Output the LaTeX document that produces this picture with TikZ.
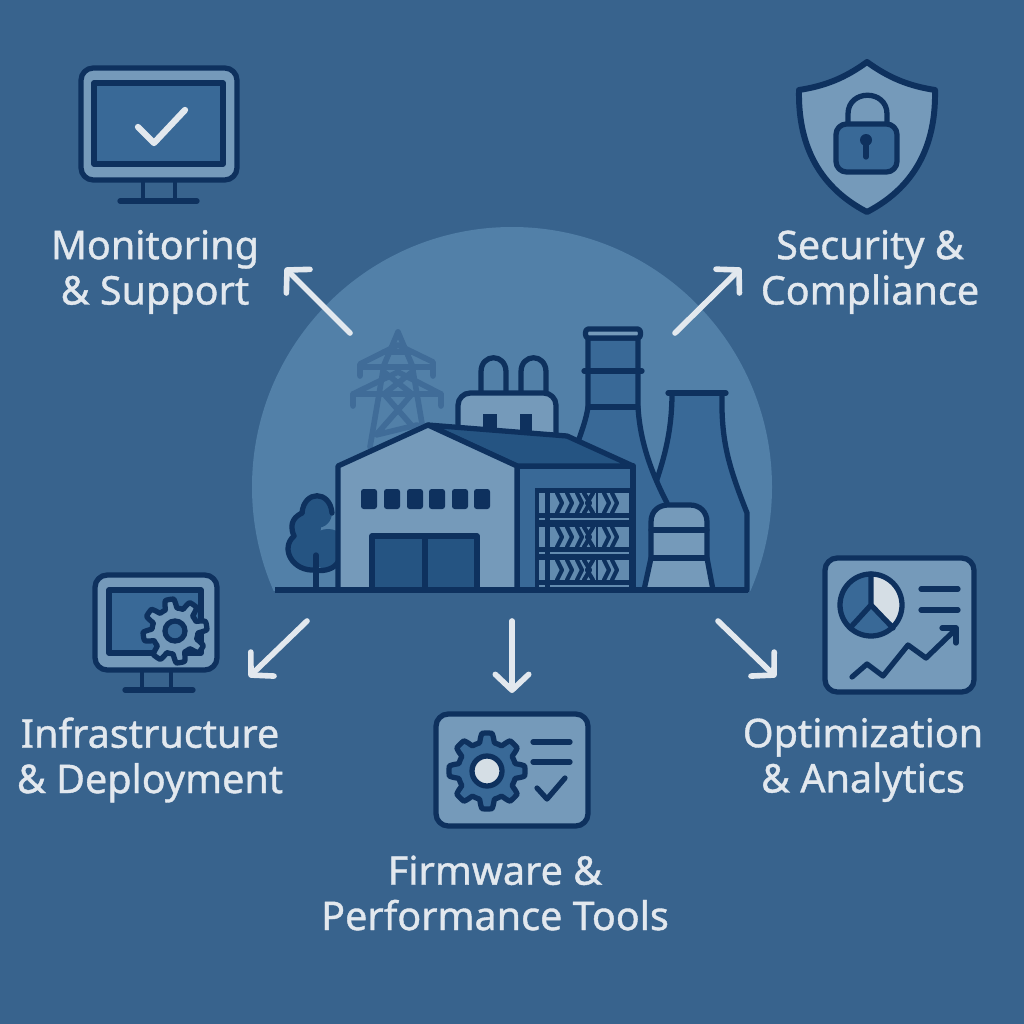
\documentclass[tikz,border=0pt]{standalone}
\usepackage{fontspec}
\setmainfont[FakeBold=1]{Noto Sans}
\usetikzlibrary{arrows.meta}

\definecolor{bgblue}{RGB}{56,99,141}
\definecolor{domeblue}{RGB}{82,128,168}
\definecolor{paleblue}{RGB}{117,154,186}
\definecolor{midblue}{RGB}{57,105,151}
\definecolor{deepblue}{RGB}{37,84,130}
\definecolor{inkblue}{RGB}{14,49,94}
\definecolor{towerblue}{RGB}{64,108,152}
\definecolor{arrowwhite}{RGB}{226,232,238}
\definecolor{pieshade}{RGB}{213,222,229}

\newcommand{\gearpath}[5]{plot[samples=193,domain=0:360,variable=\t,smooth] ({#1+min(#3,max(#4,(#3+#4)/2+(#3-#4)*1.1*cos(8*(\t+#5))))*cos(\t)},{#2+min(#3,max(#4,(#3+#4)/2+(#3-#4)*1.1*cos(8*(\t+#5))))*sin(\t)}) -- cycle}

\begin{document}
\begin{tikzpicture}[x=0.02cm,y=-0.02cm]
	\tikzstyle{ink}=[draw=inkblue,line width=3pt,line join=round,line cap=round]
	\tikzstyle{thinink}=[draw=inkblue,line width=2.4pt,line join=round,line cap=round]
	\tikzstyle{pylon}=[draw=towerblue,line width=3.2pt,line join=round,line cap=round]
	\tikzstyle{flow}=[draw=arrowwhite,line width=3.2pt,line cap=round,-{Straight Barb[length=9pt,width=19pt,line cap=round,line join=round]}]
	\tikzstyle{caption}=[text=arrowwhite,font=\fontsize{22.5}{25.8}\selectfont,align=center,inner sep=0pt]

	\fill[bgblue] (0,0) rectangle (1024,1024);
	\useasboundingbox (0,0) rectangle (1024,1024);

	\begin{scope}
		\clip (0,0) rectangle (1024,590);
		\fill[domeblue] (512,487) circle [radius=260];
	\end{scope}

	\draw[pylon] (398,332) -- (384,365) -- (370,447);
	\draw[pylon] (398,332) -- (412,365) -- (426,447);
	\draw[pylon] (384,352) -- (412,352);
	\draw[pylon] (360,376) -- (360,364) -- (398,345) -- (433,362) -- (433,376);
	\draw[pylon] (360,367) -- (433,367);
	\draw[pylon] (353,406) -- (353,394) -- (398,372) -- (441,394) -- (441,406);
	\draw[pylon] (353,394) -- (441,394);
	\draw[pylon] (384,372) -- (412,394) -- (376,435) -- (417,425);
	\draw[pylon] (412,372) -- (384,394) -- (420,435);

	\draw[ink,fill=midblue] (672,393) -- (722,393) .. controls (721,440) and (728,465) .. (747,513) -- (747,590) -- (650,590) -- (650,500) .. controls (660,470) and (672,440) .. (672,393) -- cycle;
	\draw[ink] (668,393) -- (726,393);

	\draw[ink,fill=midblue] (588,338) -- (588,407) .. controls (586,420) and (582,430) .. (578,442) -- (570,590) -- (660,590) -- (667,503) .. controls (650,470) and (640,440) .. (638,407) -- (638,338) -- cycle;
	\draw[ink,fill=paleblue] (588,329) -- (638,329) to[out=0,in=0] (638,338) -- (588,338) to[out=180,in=180] (588,329);
	\draw[ink] (584,371) -- (642,371);
	\draw[ink] (588,407) -- (638,407);

	\draw[ink,fill=paleblue] (644,590) -- (651,558) -- (651,522) .. controls (651,510) and (660,505) .. (668,505) -- (690,505) .. controls (700,505) and (707,512) .. (707,522) -- (707,558) -- (713,590) -- cycle;
	\draw[ink] (651,530) -- (707,530);
	\draw[ink] (651,558) -- (707,558);

	\draw[ink,fill=domeblue] (481,393) -- (481,372) .. controls (481,353) and (506,353) .. (506,372) -- (506,393);
	\draw[ink,fill=domeblue] (521,393) -- (521,372) .. controls (521,353) and (546,353) .. (546,372) -- (546,393);
	\draw[ink,fill=paleblue,rounded corners=7pt] (458,440) -- (458,393) -- (556,393) -- (556,440);
	\fill[inkblue] (483,414) rectangle (497,432);
	\fill[inkblue] (520,414) rectangle (532,434);

	\fill[deepblue] (317,513) circle [radius=15];
	\fill[deepblue] (306,527) circle [radius=15];
	\fill[deepblue] (306,549) circle [radius=20];
	\fill[deepblue] (328,549) circle [radius=20];
	\draw[ink] (302,513) .. controls (304,490) and (330,490) .. (332,513);
	\draw[ink] (302,513) .. controls (296,516) and (288,522) .. (294,536);
	\draw[ink] (294,536) .. controls (280,548) and (292,572) .. (316,570) .. controls (325,572) and (335,568) .. (338,562);
	\draw[ink] (316,555) -- (316,590);

	\draw[ink,fill=midblue] (517,466) -- (633,466) -- (633,590) -- (517,590) -- cycle;
	\draw[ink,fill=deepblue] (428,425) -- (567,436) -- (633,466) -- (517,466) -- cycle;
	\draw[ink,fill=paleblue] (338,590) -- (338,466) -- (428,425) -- (517,466) -- (517,590) -- cycle;

	\foreach \winx in {361,384,407,429,452,474}
		\fill[inkblue,rounded corners=1.5pt] (\winx,489) rectangle ({\winx+16},509);

	\draw[ink,fill=deepblue] (372,536) rectangle (477,590);
	\draw[ink] (425,536) -- (425,590);

	\fill[inkblue] (535,488) rectangle (632,590);
	\foreach \rowy in {493,527,560} {
		\fill[paleblue!70!midblue] (550,\rowy) rectangle (629,{\rowy+20});
		\fill[paleblue!70!midblue] (539,\rowy) rectangle (545,{\rowy+20});
		\fill[paleblue!70!midblue] (550,{\rowy+25}) rectangle (629,{\rowy+27});
		\fill[paleblue!70!midblue] (539,{\rowy+25}) rectangle (545,{\rowy+27});
		\foreach \barx in {557,567,577,604,612}
			\draw[thinink] (\barx,\rowy) -- ({\barx+5},{\rowy+10}) -- (\barx,{\rowy+20});
		\draw[thinink] (584,\rowy) -- (590,{\rowy+10}) -- (584,{\rowy+20});
		\draw[thinink] (593,\rowy) -- (587,{\rowy+10}) -- (593,{\rowy+20});
		\draw[inkblue,line width=1.2pt] (597,\rowy) -- (597,{\rowy+20});
	}

	\draw[inkblue,line width=3.2pt] (275,590) -- (748,590);

	\draw[ink,fill=paleblue,rounded corners=7pt] (81,68) rectangle (237,180);
	\draw[ink,fill=midblue] (94,83) rectangle (223,164);
	\draw[draw=arrowwhite,line width=3.6pt,line cap=round,line join=round] (138,127) -- (154,143) -- (185,110);
	\draw[thinink] (143,181) -- (143,201);
	\draw[thinink] (175,181) -- (175,201);
	\draw[ink] (120,201) -- (197,201);

	\draw[ink,line width=3.4pt,fill=paleblue] (867,62) .. controls (845,78) and (825,86) .. (799,90) .. controls (798,140) and (815,185) .. (867,212) .. controls (919,185) and (936,140) .. (935,90) .. controls (909,86) and (889,78) .. (867,62) -- cycle;
	\draw[ink] (848,124) -- (848,114) .. controls (848,89) and (887,89) .. (887,114) -- (887,124);
	\draw[ink,fill=midblue,rounded corners=6pt] (836,124) rectangle (897,172);
	\fill[inkblue] (866,140) circle [radius=6];
	\draw[ink] (866,140) -- (866,157);

	\draw[ink,fill=paleblue,rounded corners=7pt] (95,575) rectangle (217,670);
	\draw[ink,fill=midblue] (109,590) rectangle (201,653);
	\draw[ink,fill=paleblue] \gearpath{175}{631}{32}{23}{10};
	\draw[ink,fill=midblue] (175,631) circle [radius=10];
	\draw[thinink] (142,671) -- (142,690);
	\draw[thinink] (171,671) -- (171,690);
	\draw[ink] (125,690) -- (193,690);

	\draw[ink,fill=paleblue,rounded corners=7pt] (436,714) rectangle (588,826);
	\draw[ink,fill=midblue] \gearpath{487}{771}{38}{29}{0};
	\draw[ink,fill=pieshade] (487,771) circle [radius=15];
	\draw[ink] (533,742) -- (570,742);
	\draw[ink] (533,762) -- (570,762);
	\draw[ink] (537,788) -- (547,799) -- (565,778);

	\draw[ink,fill=paleblue,rounded corners=7pt] (825,558) rectangle (974,692);
	\fill[midblue] (871,605) circle [radius=31];
	\fill[pieshade] (871,605) -- (871,574) arc [start angle=-90,end angle=40,radius=31] -- cycle;
	\draw[ink] (871,605) circle [radius=31];
	\draw[ink] (871,574) -- (871,605) -- (850,628);
	\draw[ink] (871,605) -- (893,628);
	\draw[ink] (921,589) -- (958,589);
	\draw[ink] (921,610) -- (958,610);
	\draw[ink] (852,677) -- (867,664) -- (883,676) -- (908,645) -- (926,658) -- (955,630);
	\draw[ink] (942,628) -- (956,628) -- (956,643);

	\node[caption] (monitoring) at (155,272) {Monitoring\\\& Support};
	\node[caption] (security) at (870,272) {Security \&\\Compliance};
	\node[caption] (infrastructure) at (150,760) {Infrastructure\\\& Deployment};
	\node[caption] (firmware) at (495,893) {Firmware \&\\Performance Tools};
	\node[caption] (optimization) at (863,760) {Optimization\\\& Analytics};

	\coordinate (monitoringfrom) at (350,333);
	\coordinate (monitoringto) at (285,268);
	\coordinate (securityfrom) at (675,333);
	\coordinate (securityto) at (741,268);
	\coordinate (infrafrom) at (307,621);
	\coordinate (infrato) at (249,677);
	\coordinate (firmwarefrom) at (512,621);
	\coordinate (firmwareto) at (512,693);
	\coordinate (optimfrom) at (718,621);
	\coordinate (optimto) at (776,677);

	\draw[flow] (monitoringfrom) -- (monitoringto);
	\draw[flow] (securityfrom) -- (securityto);
	\draw[flow] (infrafrom) -- (infrato);
	\draw[flow] (firmwarefrom) -- (firmwareto);
	\draw[flow] (optimfrom) -- (optimto);
\end{tikzpicture}
\end{document}
